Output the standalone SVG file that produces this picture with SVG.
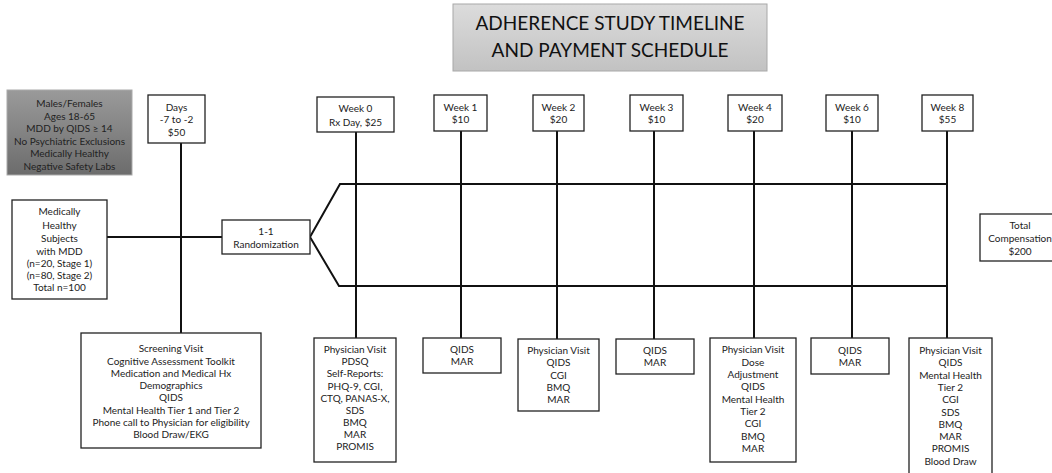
<svg xmlns="http://www.w3.org/2000/svg" width="1052" height="473" viewBox="0 0 1052 473">
<defs>
<linearGradient id="gTitle" x1="0" y1="0" x2="0" y2="1">
<stop offset="0" stop-color="#dcdcdc"/><stop offset="1" stop-color="#c2c2c2"/>
</linearGradient>
<linearGradient id="gDark" x1="0" y1="0" x2="0" y2="1">
<stop offset="0" stop-color="#9a9a9a"/><stop offset="1" stop-color="#6c6c6c"/>
</linearGradient>
<style>
.box{fill:#fff;stroke:#222;stroke-width:1.3}
.t{font-family:Lato,"Open Sans","Liberation Sans",sans-serif;font-size:10px;fill:#222;text-anchor:middle}
.ttl{font-family:Lato,"Open Sans","Liberation Sans",sans-serif;font-size:19px;fill:#111;text-anchor:middle}
.ln{stroke:#111;stroke-width:2;fill:none}
</style>
</defs>
<rect width="1052" height="473" fill="#fff"/>

<g id="connectors">
<line class="ln" x1="181" y1="143" x2="181" y2="333"/>
<line class="ln" x1="107" y1="237" x2="222" y2="237"/>
<polyline class="ln" points="947,184 340,184 310,237 339,286 947,286"/>
<line class="ln" x1="356" y1="132" x2="356" y2="338"/>
<line class="ln" x1="461" y1="131" x2="461" y2="338"/>
<line class="ln" x1="557" y1="131" x2="557" y2="339"/>
<line class="ln" x1="654" y1="131" x2="654" y2="339"/>
<line class="ln" x1="754" y1="131" x2="754" y2="338"/>
<line class="ln" x1="852" y1="131" x2="852" y2="338"/>
<line class="ln" x1="947" y1="131" x2="947" y2="338"/>
</g>

<g id="title">
<rect x="453" y="4" width="314" height="67" fill="url(#gTitle)" stroke="#a8a8a8" stroke-width="1"/>
<text class="ttl" x="610" y="30">ADHERENCE STUDY TIMELINE</text>
<text class="ttl" x="610" y="57">AND PAYMENT SCHEDULE</text>
</g>

<g id="criteria">
<rect x="7" y="90" width="125" height="85" fill="url(#gDark)" stroke="#aaa" stroke-width="1"/>
<text class="t" x="69.5" y="107">Males/Females</text>
<text class="t" x="69.5" y="119.5">Ages 18-65</text>
<text class="t" x="69.5" y="132">MDD by QIDS ≥ 14</text>
<text class="t" x="69.5" y="144.5">No Psychiatric Exclusions</text>
<text class="t" x="69.5" y="157">Medically Healthy</text>
<text class="t" x="69.5" y="169.5">Negative Safety Labs</text>
</g>

<g id="days">
<rect class="box" x="148" y="95" width="57" height="48"/>
<text class="t" x="176.5" y="111">Days</text>
<text class="t" x="176.5" y="123">-7 to -2</text>
<text class="t" x="176.5" y="136">$50</text>
</g>

<g id="subjects">
<rect class="box" x="12" y="200" width="95" height="99"/>
<text class="t" x="59.5" y="215">Medically</text>
<text class="t" x="59.5" y="228.5">Healthy</text>
<text class="t" x="59.5" y="242">Subjects</text>
<text class="t" x="59.5" y="254.5">with MDD</text>
<text class="t" x="59.5" y="266.5">(n=20, Stage 1)</text>
<text class="t" x="59.5" y="279">(n=80, Stage 2)</text>
<text class="t" x="59.5" y="291">Total n=100</text>
</g>

<g id="randomization">
<rect class="box" x="222" y="220" width="88" height="34"/>
<text class="t" x="266" y="235">1-1</text>
<text class="t" x="266" y="248">Randomization</text>
</g>

<g id="week0">
<rect class="box" x="317" y="97" width="77" height="35"/>
<text class="t" x="355.5" y="112">Week 0</text>
<text class="t" x="355.5" y="126">Rx Day, $25</text>
</g>
<g id="week1">
<rect class="box" x="434" y="95" width="53" height="36"/>
<text class="t" x="460.5" y="111">Week 1</text>
<text class="t" x="460.5" y="123">$10</text>
</g>
<g id="week2">
<rect class="box" x="533" y="95" width="51" height="36"/>
<text class="t" x="558.5" y="111">Week 2</text>
<text class="t" x="558.5" y="123">$20</text>
</g>
<g id="week3">
<rect class="box" x="630" y="95" width="53" height="36"/>
<text class="t" x="656.5" y="111">Week 3</text>
<text class="t" x="656.5" y="123">$10</text>
</g>
<g id="week4">
<rect class="box" x="728" y="95" width="54" height="36"/>
<text class="t" x="755" y="111">Week 4</text>
<text class="t" x="755" y="123">$20</text>
</g>
<g id="week6">
<rect class="box" x="826" y="95" width="52" height="36"/>
<text class="t" x="852" y="111">Week 6</text>
<text class="t" x="852" y="123">$10</text>
</g>
<g id="week8">
<rect class="box" x="922" y="95" width="51" height="36"/>
<text class="t" x="947.5" y="111">Week 8</text>
<text class="t" x="947.5" y="123">$55</text>
</g>

<g id="total">
<rect class="box" x="980" y="214" width="76" height="47"/>
<text class="t" x="1020" y="229">Total</text>
<text class="t" x="1020" y="242">Compensation</text>
<text class="t" x="1020" y="255">$200</text>
</g>

<g id="screening">
<rect class="box" x="81" y="333" width="180" height="115"/>
<text class="t" x="171" y="352">Screening Visit</text>
<text class="t" x="171" y="364.5">Cognitive Assessment Toolkit</text>
<text class="t" x="171" y="376.5">Medication and Medical Hx</text>
<text class="t" x="171" y="389">Demographics</text>
<text class="t" x="171" y="401">QIDS</text>
<text class="t" x="171" y="413.5">Mental Health Tier 1 and Tier 2</text>
<text class="t" x="171" y="426">Phone call to Physician for eligibility</text>
<text class="t" x="171" y="438">Blood Draw/EKG</text>
</g>

<g id="visit0">
<rect class="box" x="314" y="338" width="82" height="124"/>
<text class="t" x="355" y="353">Physician Visit</text>
<text class="t" x="355" y="365">PDSQ</text>
<text class="t" x="355" y="377">Self-Reports:</text>
<text class="t" x="355" y="389.5">PHQ-9, CGI,</text>
<text class="t" x="355" y="401.5">CTQ, PANAS-X,</text>
<text class="t" x="355" y="413.5">SDS</text>
<text class="t" x="355" y="426">BMQ</text>
<text class="t" x="355" y="438">MAR</text>
<text class="t" x="355" y="450">PROMIS</text>
</g>

<g id="visit1">
<rect class="box" x="423" y="338" width="78" height="35"/>
<text class="t" x="462" y="353">QIDS</text>
<text class="t" x="462" y="365">MAR</text>
</g>

<g id="visit2">
<rect class="box" x="518" y="339" width="81" height="72"/>
<text class="t" x="558.5" y="354">Physician Visit</text>
<text class="t" x="558.5" y="366">QIDS</text>
<text class="t" x="558.5" y="378.5">CGI</text>
<text class="t" x="558.5" y="391">BMQ</text>
<text class="t" x="558.5" y="403">MAR</text>
</g>

<g id="visit3">
<rect class="box" x="616" y="339" width="78" height="35"/>
<text class="t" x="655" y="354">QIDS</text>
<text class="t" x="655" y="366">MAR</text>
</g>

<g id="visit4">
<rect class="box" x="710" y="338" width="86" height="124"/>
<text class="t" x="753" y="353">Physician Visit</text>
<text class="t" x="753" y="366">Dose</text>
<text class="t" x="753" y="378">Adjustment</text>
<text class="t" x="753" y="390">QIDS</text>
<text class="t" x="753" y="402.5">Mental Health</text>
<text class="t" x="753" y="415">Tier 2</text>
<text class="t" x="753" y="427">CGI</text>
<text class="t" x="753" y="440">BMQ</text>
<text class="t" x="753" y="452">MAR</text>
</g>

<g id="visit6">
<rect class="box" x="811" y="338" width="78" height="36"/>
<text class="t" x="850" y="354">QIDS</text>
<text class="t" x="850" y="366">MAR</text>
</g>

<g id="visit8">
<rect class="box" x="909" y="338" width="83" height="140"/>
<text class="t" x="950.5" y="354">Physician Visit</text>
<text class="t" x="950.5" y="366">QIDS</text>
<text class="t" x="950.5" y="379">Mental Health</text>
<text class="t" x="950.5" y="391">Tier 2</text>
<text class="t" x="950.5" y="403">CGI</text>
<text class="t" x="950.5" y="415.5">SDS</text>
<text class="t" x="950.5" y="428">BMQ</text>
<text class="t" x="950.5" y="440">MAR</text>
<text class="t" x="950.5" y="452">PROMIS</text>
<text class="t" x="950.5" y="465">Blood Draw</text>
</g>
</svg>
